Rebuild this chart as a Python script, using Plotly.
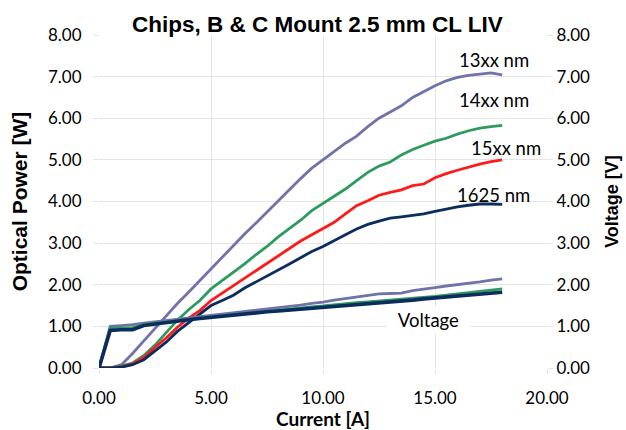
import plotly.graph_objects as go

current = [0, 0.5, 1, 1.5, 2, 2.5, 3, 3.5, 4, 4.5, 5, 5.5, 6, 6.5, 7, 7.5, 8, 8.5, 9, 9.5,
           10, 10.5, 11, 11.5, 12, 12.5, 13, 13.5, 14, 14.5, 15, 15.5, 16, 16.5, 17, 17.5, 18]

p_13xx = [0, 0, 0.08, 0.35, 0.65, 0.95, 1.25, 1.55, 1.82, 2.1, 2.38, 2.68, 2.95, 3.22, 3.48, 3.75,
          4.0, 4.27, 4.55, 4.8, 5.0, 5.2, 5.4, 5.57, 5.8, 6.0, 6.15, 6.3, 6.5, 6.65, 6.78, 6.9,
          6.98, 7.03, 7.06, 7.09, 7.04]
p_14xx = [0, 0, 0.05, 0.12, 0.3, 0.55, 0.85, 1.15, 1.4, 1.62, 1.9, 2.1, 2.28, 2.5, 2.72, 2.92,
          3.15, 3.35, 3.55, 3.78, 3.95, 4.12, 4.3, 4.5, 4.7, 4.85, 4.95, 5.12, 5.25, 5.35, 5.45,
          5.52, 5.62, 5.7, 5.76, 5.8, 5.83]
p_15xx = [0, 0, 0.03, 0.1, 0.25, 0.5, 0.72, 0.98, 1.2, 1.38, 1.62, 1.8, 1.96, 2.15, 2.33, 2.5,
          2.7, 2.88, 3.05, 3.2, 3.35, 3.5, 3.7, 3.9, 4.02, 4.15, 4.22, 4.28, 4.38, 4.42, 4.57,
          4.67, 4.75, 4.83, 4.9, 4.96, 5.0]
p_1625 = [0, 0, 0.02, 0.08, 0.2, 0.4, 0.62, 0.88, 1.08, 1.3, 1.5, 1.62, 1.75, 1.92, 2.06, 2.2,
          2.35, 2.5, 2.65, 2.8, 2.92, 3.05, 3.2, 3.34, 3.45, 3.53, 3.6, 3.63, 3.67, 3.7, 3.76,
          3.82, 3.87, 3.91, 3.94, 3.94, 3.93]

v_13xx = [0, 1.0, 1.02, 1.04, 1.08, 1.11, 1.14, 1.17, 1.2, 1.23, 1.26, 1.29, 1.32, 1.35, 1.38,
          1.42, 1.45, 1.48, 1.51, 1.55, 1.58, 1.63, 1.67, 1.71, 1.74, 1.78, 1.79, 1.8, 1.86,
          1.89, 1.93, 1.97, 2.0, 2.04, 2.07, 2.11, 2.14]
v_14xx = [0, 0.95, 0.96, 0.97, 1.05, 1.08, 1.11, 1.14, 1.17, 1.2, 1.23, 1.26, 1.29, 1.31, 1.33,
          1.36, 1.39, 1.41, 1.44, 1.47, 1.49, 1.52, 1.55, 1.57, 1.59, 1.61, 1.63, 1.65, 1.67,
          1.7, 1.72, 1.75, 1.78, 1.81, 1.84, 1.87, 1.9]
v_1625 = [0, 0.9, 0.92, 0.92, 1.02, 1.06, 1.1, 1.13, 1.16, 1.19, 1.22, 1.25, 1.28, 1.3, 1.32,
          1.35, 1.37, 1.39, 1.42, 1.44, 1.46, 1.49, 1.51, 1.53, 1.55, 1.57, 1.59, 1.61, 1.63,
          1.66, 1.68, 1.71, 1.74, 1.76, 1.78, 1.8, 1.82]

tick_vals_y = [0, 1, 2, 3, 4, 5, 6, 7, 8]
tick_text_y = ["0.00", "1.00", "2.00", "3.00", "4.00", "5.00", "6.00", "7.00", "8.00"]
tick_vals_x = [0, 5, 10, 15, 20]
tick_text_x = ["0.00", "5.00", "10.00", "15.00", "20.00"]

labels = ["13xx nm", "14xx nm", "15xx nm", "1625 nm", "Voltage"]
label_x = [17.62, 17.62, 18.19, 17.62, 14.72]
label_y = [7.40, 6.44, 5.28, 4.16, 1.16]

PURPLE = "#7072AA"
GREEN = "#2E9B5E"
RED = "#FF1A1A"
NAVY = "#0B2D5E"

fig = go.Figure()
fig.add_trace(go.Scatter(x=current, y=v_13xx, mode="lines", line=dict(color=PURPLE, width=2.8), yaxis="y2"))
fig.add_trace(go.Scatter(x=current, y=v_14xx, mode="lines", line=dict(color=GREEN, width=2.8), yaxis="y2"))
fig.add_trace(go.Scatter(x=current, y=v_1625, mode="lines", line=dict(color=NAVY, width=3.6), yaxis="y2"))
fig.add_trace(go.Scatter(x=current, y=p_13xx, mode="lines", line=dict(color=PURPLE, width=2.8)))
fig.add_trace(go.Scatter(x=current, y=p_14xx, mode="lines", line=dict(color=GREEN, width=2.8)))
fig.add_trace(go.Scatter(x=current, y=p_15xx, mode="lines", line=dict(color=RED, width=2.8)))
fig.add_trace(go.Scatter(x=current, y=p_1625, mode="lines", line=dict(color=NAVY, width=2.8)))

LATO = "Lato, Open Sans, sans-serif"
tick_font = dict(family=LATO, size=17, color="#000000")
grid = "#E4E4E4"

for txt, lx, ly in zip(labels, label_x, label_y):
    is_v = txt == "Voltage"
    fig.add_annotation(x=lx, y=ly, xref="x", yref="y",
                       text=("&nbsp;&nbsp;" + txt + "&nbsp;&nbsp;") if is_v else txt,
                       showarrow=False,
                       font=dict(family=LATO, size=18.5, color="#000000"),
                       bgcolor="#FFFFFF" if is_v else "rgba(0,0,0,0)",
                       borderpad=2)

fig.add_annotation(x=0.487, y=1.0, xref="paper", yref="paper", yanchor="middle", yshift=11,
                   text="<b>Chips, B &amp; C Mount 2.5 mm CL LIV</b>", showarrow=False,
                   font=dict(family="Liberation Sans, Arial", size=22.5, color="#000000"))

fig.update_layout(
    width=626, height=430,
    margin=dict(l=99, r=79, t=35, b=62, autoexpand=False),
    paper_bgcolor="#FFFFFF", plot_bgcolor="#FFFFFF",
    showlegend=False,
    xaxis=dict(range=[0, 20], tickvals=tick_vals_x, ticktext=tick_text_x, showgrid=True,
               gridcolor=grid, gridwidth=1, zeroline=False, showline=False, automargin=False,
               ticks="outside", ticklen=5, tickcolor=grid, tickfont=tick_font,
               ticklabelstandoff=10,
               title=dict(text="<b>Current [A]</b>", standoff=4,
                          font=dict(family=LATO, size=19, color="#000000"))),
    yaxis=dict(range=[0, 8], tickvals=tick_vals_y, ticktext=tick_text_y, showgrid=True,
               gridcolor=grid, gridwidth=1, zeroline=False, showline=False, automargin=False,
               ticks="outside", ticklen=5, tickcolor=grid, tickfont=tick_font,
               ticklabelstandoff=8,
               title=dict(text="<b>Optical Power [W]</b>", standoff=14,
                          font=dict(family="Liberation Sans, Arial", size=21, color="#000000"))),
    yaxis2=dict(range=[0, 8], tickvals=tick_vals_y, ticktext=tick_text_y, overlaying="y",
                side="right", showgrid=False, zeroline=False, showline=False, automargin=False,
                ticks="outside", ticklen=5, tickcolor=grid, tickfont=tick_font,
                ticklabelstandoff=0,
                title=dict(text="<b>Voltage [V]</b>", standoff=16,
                           font=dict(family="Liberation Sans, Arial", size=18, color="#000000"))),
)

fig.write_html("out.html", config={"displayModeBar": False},
               post_script="document.body.style.margin='0px';")
